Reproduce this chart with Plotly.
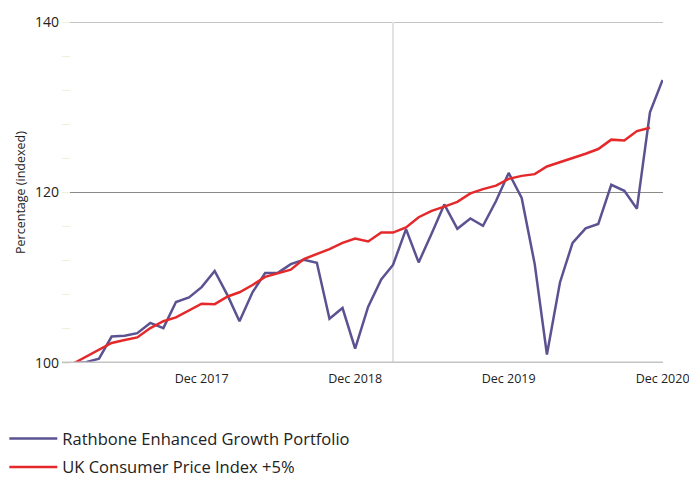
import plotly.graph_objects as go
import pandas as pd

months = pd.date_range("2017-02-01", "2020-12-01", freq="MS")

portfolio = [100.0, 100.1, 100.5, 103.1, 103.2, 103.5, 104.7, 104.1, 107.15, 107.7,
             108.9, 110.8, 107.9, 104.9, 108.3, 110.55, 110.6, 111.6, 112.1, 111.75,
             105.2, 106.45, 101.7, 106.6, 109.8, 111.5, 115.7, 111.8, 115.2, 118.6,
             115.75, 116.95, 116.1, 119.0, 122.3, 119.35, 111.6, 101.0, 109.45, 114.1,
             115.8, 116.3, 120.9, 120.2, 118.1, 129.4, 133.2]

cpi = [100.0, 100.75, 101.55, 102.35, 102.7, 103.0, 104.1, 104.9, 105.35, 106.2,
       106.95, 106.9, 107.8, 108.3, 109.15, 110.1, 110.55, 110.95, 112.2, 112.75,
       113.35, 114.1, 114.6, 114.25, 115.3, 115.3, 115.9, 117.1, 117.85, 118.35,
       118.9, 119.9, 120.4, 120.8, 121.6, 121.95, 122.15, 123.05, 123.55, 124.0,
       124.55, 125.1, 126.2, 126.1, 127.2, 127.6]

tick_dates = ["2017-12-01", "2018-12-01", "2019-12-01", "2020-12-01"]
tick_labels = ["Dec 2017", "Dec 2018", "Dec 2019", "Dec 2020"]
y_ticks = [100, 120, 140]
marker_date = "2019-03-01"

FONT = "Open Sans"

fig = go.Figure()
fig.add_trace(go.Scatter(x=months, y=portfolio, mode="lines",
                         name="Rathbone Enhanced Growth Portfolio", legendgroup="a",
                         line=dict(color="#5b5391", width=2.5)))
fig.add_trace(go.Scatter(x=months[:len(cpi)], y=cpi, mode="lines",
                         name="UK Consumer Price Index +5%", legendgroup="b",
                         line=dict(color="#e5292b", width=2.5)))

fig.add_shape(type="line", xref="x", yref="y", x0=marker_date, x1=marker_date,
              y0=100, y1=140, line=dict(color="#e2e2e2", width=2), layer="below")

fig.update_layout(
    width=689, height=479,
    margin=dict(l=62, r=26, t=22, b=116, autoexpand=False),
    paper_bgcolor="white", plot_bgcolor="white",
    font=dict(family=FONT, color="#222222", size=12),
    showlegend=True,
    legend=dict(orientation="v", x=-0.096, xanchor="left", y=-0.171, yanchor="top",
                font=dict(size=16.5, family=FONT, color="#222222"),
                traceorder="grouped", tracegroupgap=4, itemwidth=48,
                bgcolor="rgba(0,0,0,0)"),
    xaxis=dict(range=["2017-01-03", "2020-12-02"], tickvals=tick_dates,
               ticktext=tick_labels, showgrid=False, zeroline=False, automargin=False,
               showline=False, ticks="", tickfont=dict(size=12.5, color="#222222"),
               ticklabelstandoff=6, ticklabeloverflow="allow"),
    yaxis=dict(range=[100, 140], tickvals=y_ticks, showgrid=True, automargin=False,
               gridcolor="#8a8a8a", gridwidth=1, zeroline=False, showline=False,
               ticks="", tickfont=dict(size=14, color="#222222"), ticklabelstandoff=2,
               title=dict(text="Percentage (indexed)", font=dict(size=12.5), standoff=6),
               minor=dict(dtick=4, tick0=100, ticks="inside", ticklen=8,
                          tickcolor="#efefdc", showgrid=False)),
)

fig.add_shape(type="line", xref="paper", yref="y", x0=0, x1=1, y0=140, y1=140,
              line=dict(color="#8a8a8a", width=1), layer="below")
fig.add_shape(type="line", xref="paper", yref="y", x0=0, x1=1, y0=100, y1=100,
              line=dict(color="#c4c4c4", width=3), layer="above")

fig.write_html("out.html", config={"displayModeBar": False},
               post_script="document.body.style.margin='0';")
